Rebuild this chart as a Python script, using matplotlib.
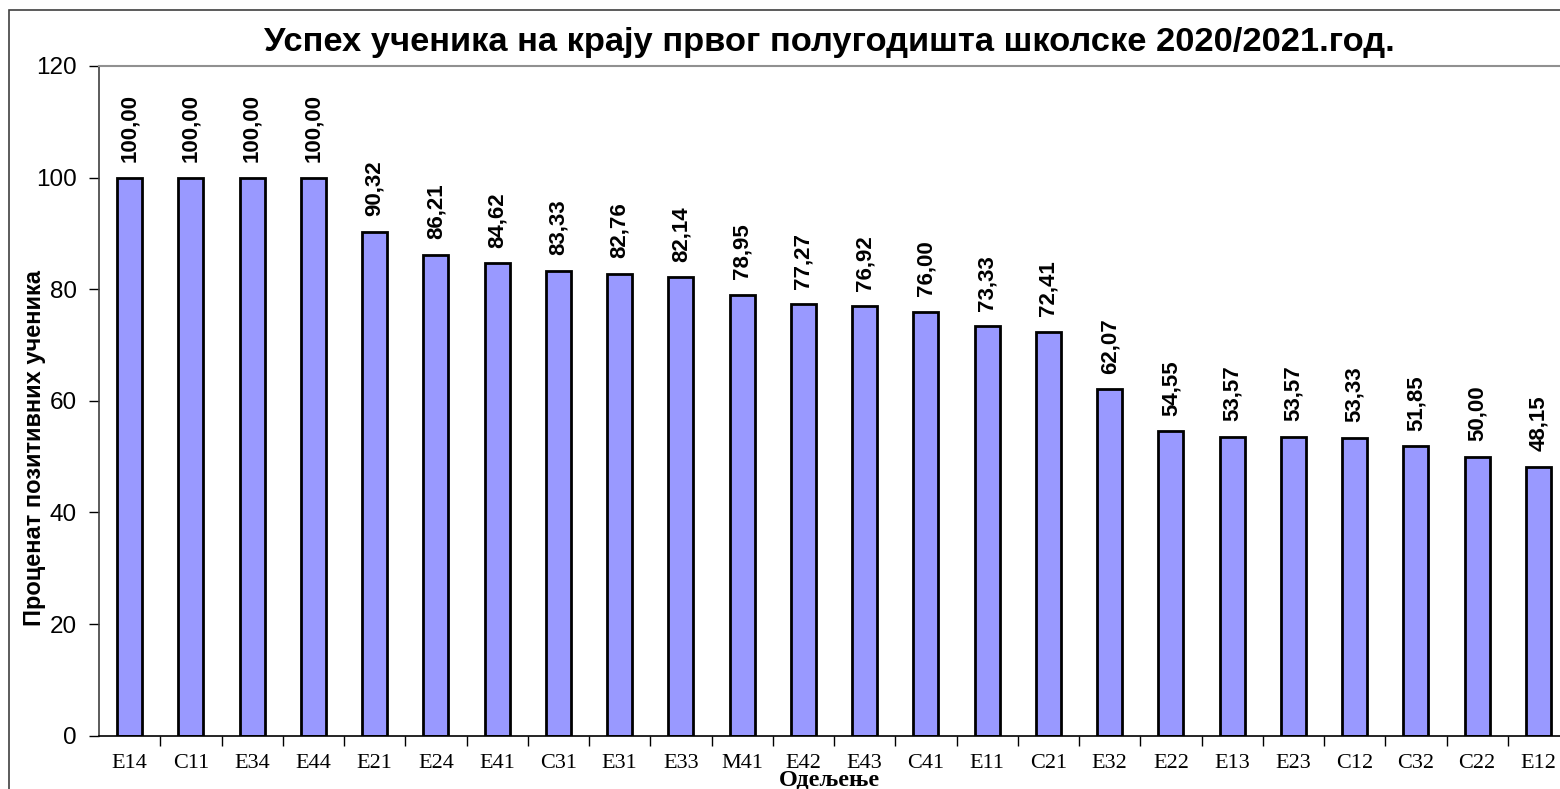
import matplotlib
matplotlib.use("Agg")
import matplotlib.pyplot as plt
from matplotlib.patches import Rectangle

# === Data ===
classes = ["E14", "C11", "E34", "E44", "E21", "E24", "E41", "C31", "E31", "E33",
           "M41", "E42", "E43", "C41", "E11", "C21", "E32", "E22", "E13", "E23",
           "C12", "C32", "C22", "E12"]
percent = [100.00, 100.00, 100.00, 100.00, 90.32, 86.21, 84.62, 83.33, 82.76, 82.14,
           78.95, 77.27, 76.92, 76.00, 73.33, 72.41, 62.07, 54.55, 53.57, 53.57,
           53.33, 51.85, 50.00, 48.15]
yticks = [0, 20, 40, 60, 80, 100, 120]

sans = "Liberation Sans"
serif = "Liberation Serif"

fig = plt.figure(figsize=(15.6, 7.89), dpi=100)
W, H = 1560, 789

# outer chart border (cropped on right/bottom)
fig.patches.append(Rectangle((9 / W, -0.1), 1.2, 1 - 10 / H + 0.1, transform=fig.transFigure,
                             fill=False, edgecolor="#404040", linewidth=1.2))

ax = fig.add_axes([99 / W, (H - 735.7) / H, 1470 / W, 669.7 / H])

x = list(range(len(classes)))
ax.bar(x, percent, width=0.41, color="#9999FF", edgecolor="black", linewidth=2.0, zorder=2)

for xi, v in zip(x, percent):
    ax.text(xi, v + 2.8, f"{v:.2f}".replace(".", ","), rotation=90, ha="center", va="bottom",
            fontsize=16, fontweight="bold", family=sans)

ax.set_xlim(-0.5, len(classes) - 0.5)
ax.set_ylim(0, 120)

ax.set_yticks(yticks)
ax.set_yticklabels([str(t) for t in yticks], family=sans, fontsize=17.5)
ax.set_xticks(x)
ax.set_xticklabels(classes, family=serif, fontsize=16)
ax.tick_params(axis="x", length=0, pad=13)
ax.set_xticks([i + 0.5 for i in x], minor=True)
ax.tick_params(axis="x", which="minor", length=7, width=1, direction="out")
ax.tick_params(axis="y", length=7, width=1, direction="out", pad=9)

for s in ["left", "bottom"]:
    ax.spines[s].set_color("black")
    ax.spines[s].set_linewidth(1.2)
ax.spines["left"].set_color("#404040")
ax.spines["top"].set_color("#909090")
ax.spines["top"].set_linewidth(1.5)
ax.spines["right"].set_visible(False)

fig.text(35 / W, 1 - 448 / H, "Проценат позитивних ученика", family=sans, fontsize=17,
         fontweight="bold", rotation=90, ha="center", va="center")
fig.text(829 / W, 1 - 780 / H, "Одељење", family=serif, fontsize=17.5, fontweight="bold",
         ha="center", va="center")

fig.text(829 / W, 1 - 42 / H, "Успех ученика на крају првог полугодишта школске 2020/2021.год.",
         family=sans, fontsize=24.8, fontweight="bold", ha="center", va="center")

fig.savefig("out.png", dpi=100)
